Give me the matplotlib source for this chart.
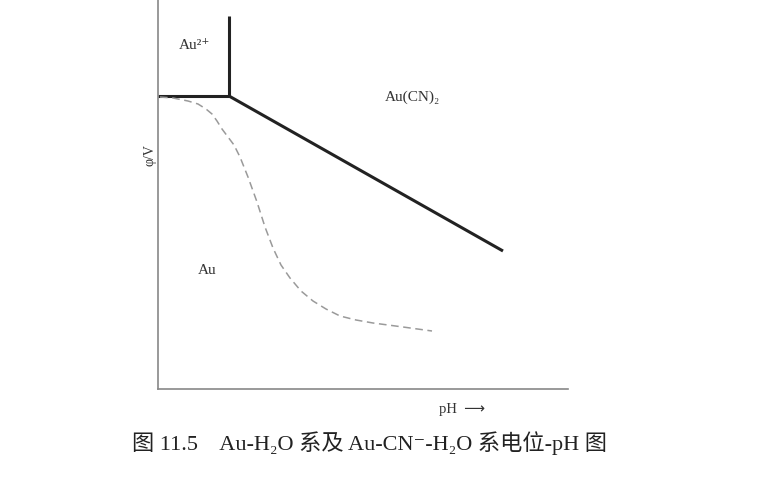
import numpy as np
import matplotlib.pyplot as plt

plt.rcParams['font.family'] = ['Liberation Serif', 'Noto Sans CJK SC', 'DejaVu Sans']

# boundary lines (arbitrary pH / potential units)
h_x = [0, 71]
h_y = [293, 293]
v_x = [71, 71]
v_y = [293, 373]
d_x = [71, 345]
d_y = [293, 138]

# dashed Au-H2O boundary
dash_x = [2, 15, 30, 40, 48, 54, 59, 64, 70, 76, 82, 90, 99, 107, 115, 123, 132, 143,
          155, 168, 182, 198, 215, 245, 274]
dash_y = [292, 291, 288, 285, 280, 275, 268, 260, 252, 244, 232, 212, 187, 162, 141, 124,
          111, 98, 88, 80, 73, 69, 66, 62, 58]

fig = plt.figure(figsize=(7.69, 5), dpi=100)
ax = fig.add_axes([158/769, 111/500, 410/769, 389/500])

ax.plot(h_x, h_y, color='#222222', lw=2.2, solid_capstyle='butt')
ax.plot(v_x, v_y, color='#222222', lw=2.2, solid_capstyle='butt')
ax.plot(d_x, d_y, color='#222222', lw=2.2, solid_capstyle='butt')
ax.plot(dash_x, dash_y, color='#9a9a9a', lw=1.1, ls=(0, (5, 3)))

ax.set_xlim(0, 410)
ax.set_ylim(0, 389)
ax.set_xticks([])
ax.set_yticks([])
for s in ['top', 'right']:
    ax.spines[s].set_visible(False)
for s in ['left', 'bottom']:
    ax.spines[s].set_color('#888888')
    ax.spines[s].set_linewidth(1.2)

ax.text(37, 344, 'Au²⁺', fontsize=11, ha='center', va='center', color='#333333')
ax.text(254, 292, 'Au(CN)₂', fontsize=11, ha='center', va='center', color='#333333')
ax.text(49, 119, 'Au', fontsize=11, ha='center', va='center', color='#333333')

fig.text(150/769, 1 - 155/500, 'φ/V', rotation=90, fontsize=10, ha='center', va='center', color='#333333')
fig.text(462/769, 1 - 410/500, 'pH  ⟶', fontsize=10.5, ha='center', va='center', color='#333333')
fig.text(370/769, 1 - 443/500, '图 11.5    Au-H₂O 系及 Au-CN⁻-H₂O 系电位-pH 图',
         fontsize=16, ha='center', va='center', color='#222222')

fig.savefig('out.png', dpi=100)
